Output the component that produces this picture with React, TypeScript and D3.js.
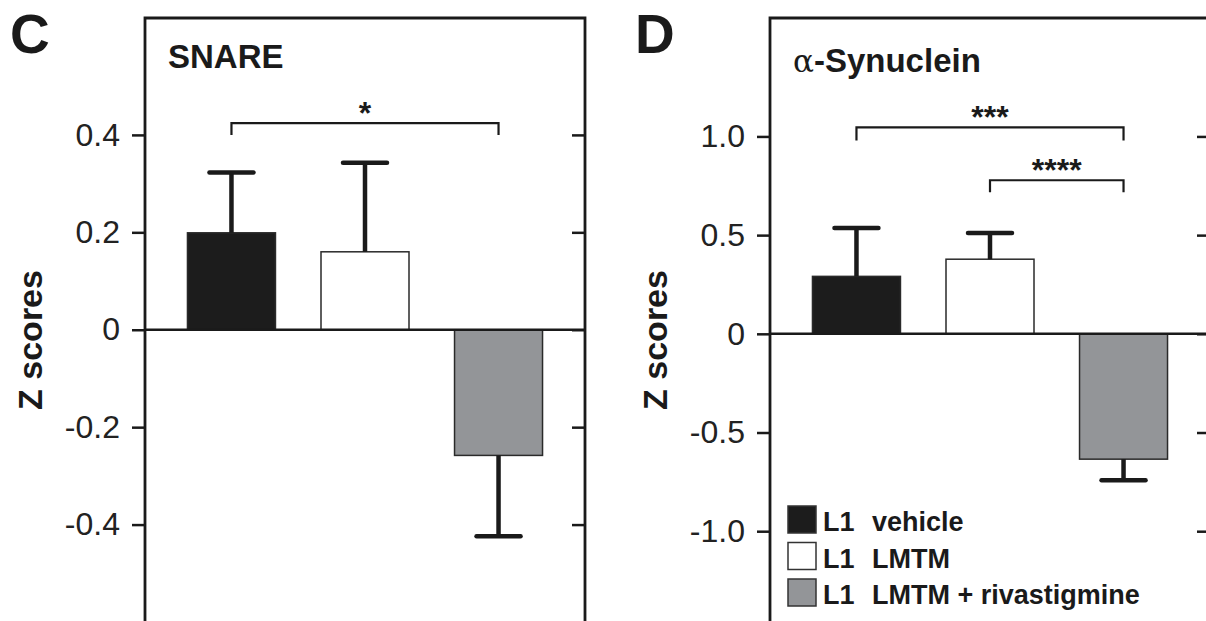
import React from 'react';
import * as d3 from 'd3';

const groups = ['L1 vehicle', 'L1 LMTM', 'L1 LMTM + rivastigmine'];
const legendPrefix = ['L1', 'L1', 'L1'];
const legendNames = ['vehicle', 'LMTM', 'LMTM + rivastigmine'];
const fills = ['#1c1c1c', '#ffffff', '#939598'];

// panel C - SNARE
const snareMeans = [0.199, 0.16, -0.258];
const snareErrors = [0.124, 0.183, 0.166];
const snareTicks = [0.4, 0.2, 0, -0.2, -0.4];
const snareTickLabels = ['0.4', '0.2', '0', '-0.2', '-0.4'];
const snareBrackets = [{ from: 0, to: 2, top: 0.424, leg: 0.4, label: '*' }];

// panel D - alpha-synuclein
const synMeans = [0.291, 0.378, -0.635];
const synErrors = [0.245, 0.133, 0.107];
const synTicks = [1.0, 0.5, 0, -0.5, -1.0];
const synTickLabels = ['1.0', '0.5', '0', '-0.5', '-1.0'];
const synBrackets = [
  { from: 0, to: 2, top: 1.046, leg: 0.98, label: '***' },
  { from: 1, to: 2, top: 0.778, leg: 0.717, label: '****' },
];

const W = 1206;
const H = 621;
const FONT = "'Liberation Sans', Arial, Helvetica, sans-serif";
const INK = '#1a1a1a';

const drawPanel = (svg, p) => {
  const left = p.left;
  const right = p.left + 440;
  const top = 18;

  const x = d3.scaleBand()
    .domain(groups)
    .range([left, right])
    .paddingInner(0.341)
    .paddingOuter(0.318);

  const y = d3.scaleLinear()
    .domain(p.domain)
    .range([H + 1, top]);

  const g = svg.append('g');

  // bars
  g.selectAll()
    .data(p.means)
    .join('rect')
      .attr('x', (d, i) => x(groups[i]))
      .attr('y', d => y(Math.max(0, d)))
      .attr('width', x.bandwidth())
      .attr('height', d => Math.abs(y(d) - y(0)))
      .attr('fill', (d, i) => fills[i])
      .attr('stroke', '#2a2a2a')
      .attr('stroke-width', 1.5);

  // error bars
  const cx = i => x(groups[i]) + x.bandwidth() / 2;
  const errEnd = (d, i) => d >= 0 ? d + p.errors[i] : d - p.errors[i];
  g.selectAll()
    .data(p.means)
    .join('line')
      .attr('x1', (d, i) => cx(i))
      .attr('x2', (d, i) => cx(i))
      .attr('y1', d => y(d))
      .attr('y2', (d, i) => y(errEnd(d, i)))
      .attr('stroke', INK)
      .attr('stroke-width', 4.5);
  g.selectAll()
    .data(p.means)
    .join('line')
      .attr('x1', (d, i) => cx(i) - 22)
      .attr('x2', (d, i) => cx(i) + 22)
      .attr('y1', (d, i) => y(errEnd(d, i)))
      .attr('y2', (d, i) => y(errEnd(d, i)))
      .attr('stroke', INK)
      .attr('stroke-width', 4.5)
      .attr('stroke-linecap', 'round');

  // zero line
  g.append('line')
    .attr('x1', left).attr('x2', right)
    .attr('y1', y(0)).attr('y2', y(0))
    .attr('stroke', INK)
    .attr('stroke-width', 2.5);

  // frame
  g.append('path')
    .attr('d', `M${left},${H + 2}V${top}H${right}V${H + 2}`)
    .attr('fill', 'none')
    .attr('stroke', INK)
    .attr('stroke-width', 2.8);

  // y axis, left ticks outside with labels
  const axisL = svg.append('g')
    .attr('transform', `translate(${left},0)`)
    .call(d3.axisLeft(y)
      .tickValues(p.ticks)
      .tickSize(13)
      .tickPadding(12)
      .tickFormat((d, i) => p.tickLabels[i]));
  axisL.select('.domain').remove();
  axisL.selectAll('line').attr('stroke', INK).attr('stroke-width', 2.5);
  axisL.selectAll('text')
    .attr('fill', '#222')
    .style('font-family', FONT)
    .style('font-size', '32px');

  // right ticks inside
  const axisR = svg.append('g')
    .attr('transform', `translate(${right},0)`)
    .call(d3.axisLeft(y).tickValues(p.ticks).tickSize(13).tickFormat(() => ''));
  axisR.select('.domain').remove();
  axisR.selectAll('line').attr('stroke', INK).attr('stroke-width', 2.5);

  // significance brackets
  p.brackets.forEach(b => {
    const x1 = cx(b.from);
    const x2 = cx(b.to);
    g.append('path')
      .attr('d', `M${x1},${y(b.leg)}V${y(b.top)}H${x2}V${y(b.leg)}`)
      .attr('fill', 'none')
      .attr('stroke', INK)
      .attr('stroke-width', 2.2);
    g.append('text')
      .attr('x', (x1 + x2) / 2)
      .attr('y', y(b.top) + 1)
      .attr('text-anchor', 'middle')
      .style('font-family', FONT)
      .style('font-size', '32px')
      .style('font-weight', 'bold')
      .attr('fill', INK)
      .text(b.label);
  });

  // y label
  svg.append('text')
    .attr('transform', `translate(${left - 103},340) rotate(-90)`)
    .attr('text-anchor', 'middle')
    .style('font-family', FONT)
    .style('font-size', '34px')
    .style('font-weight', 'bold')
    .attr('fill', INK)
    .text('Z scores');

  // panel letter
  svg.append('text')
    .attr('x', left - 135)
    .attr('y', 53)
    .style('font-family', FONT)
    .style('font-size', '55px')
    .style('font-weight', 'bold')
    .attr('fill', INK)
    .text(p.letter);

  // title
  const t = svg.append('text')
    .attr('x', left + 23)
    .attr('y', p.titleY)
    .style('font-family', FONT)
    .style('font-size', '33px')
    .style('font-weight', 'bold')
    .attr('fill', INK);
  if (p.greek) {
    t.append('tspan')
      .style('font-family', "'DejaVu Serif', 'Liberation Serif', serif")
      .style('font-weight', 'normal')
      .style('font-size', '31px')
      .text(p.greek);
  }
  t.append('tspan').text(p.title);

  // legend
  if (p.legend) {
    const rows = g.selectAll()
      .data(groups)
      .join('g')
        .attr('transform', (d, i) => `translate(${left + 18},${531 + i * 36.5})`);
    rows.append('rect')
      .attr('x', 0).attr('y', -25)
      .attr('width', 28).attr('height', 27)
      .attr('fill', (d, i) => fills[i])
      .attr('stroke', '#333')
      .attr('stroke-width', 1.5);
    rows.append('text')
      .attr('x', 35)
      .style('font-family', FONT)
      .style('font-size', '27px')
      .style('font-weight', 'bold')
      .attr('fill', INK)
      .text((d, i) => legendPrefix[i]);
    rows.append('text')
      .attr('x', 84)
      .style('font-family', FONT)
      .style('font-size', '27px')
      .style('font-weight', 'bold')
      .attr('fill', INK)
      .text((d, i) => legendNames[i]);
  }
};

const App = () => {
  const svgRef = React.useRef(null);

  React.useEffect(() => {
    const svg = d3.select(svgRef.current);
    svg.selectAll('*').remove();

    drawPanel(svg, {
      left: 145, domain: [-0.6, 0.64], letter: 'C', title: 'SNARE', titleY: 68,
      means: snareMeans, errors: snareErrors, ticks: snareTicks,
      tickLabels: snareTickLabels, brackets: snareBrackets, legend: false,
    });
    drawPanel(svg, {
      left: 770, domain: [-1.46, 1.6], letter: 'D', greek: 'α', title: '-Synuclein', titleY: 72,
      means: synMeans, errors: synErrors, ticks: synTicks,
      tickLabels: synTickLabels, brackets: synBrackets, legend: true,
    });
  }, []);

  return (
    <svg
      ref={svgRef}
      width={W}
      height={H}
      style={{ position: 'absolute', left: 0, top: 0, background: '#fff' }}
    />
  );
};

export default App;
